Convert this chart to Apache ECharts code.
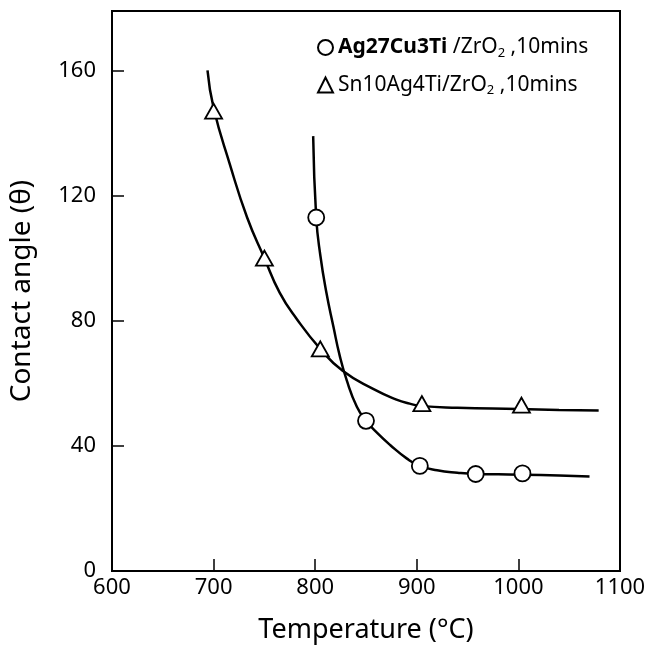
<!DOCTYPE html>
<html>
<head>
<meta charset="utf-8">
<script src="https://cdn.jsdelivr.net/npm/echarts@6/dist/echarts.min.js"></script>
<style>
html,body{margin:0;padding:0;background:#fff;}
#chart{width:649px;height:649px;}
</style>
</head>
<body>
<div id="chart"></div>
<script>
// measured points
var triTemp = [700, 750, 805, 905, 1003];
var triAngle = [147, 100, 71, 53.5, 53];
var cirTemp = [801, 850, 903, 958, 1004];
var cirAngle = [113, 48, 33.6, 31, 31.2];

// hand drawn fit curves
var triCurveTemp = [694, 700, 716, 733, 750, 765, 782, 805, 827, 857, 880, 893, 905, 940, 1000, 1040, 1079];
var triCurveAngle = [160, 148, 130, 113, 100, 89, 80.5, 71, 64, 58.2, 54.8, 53.5, 52.7, 52.2, 51.8, 51.5, 51.3];
var cirCurveTemp = [798, 801, 805, 811, 818, 824, 831, 841, 850, 862, 874, 890, 903, 920, 940, 958, 980, 1004, 1040, 1070];
var cirCurveAngle = [139, 113, 101, 89, 78, 69, 61, 52.5, 48, 43.8, 40.2, 36, 33.6, 32.2, 31.4, 31, 30.9, 30.8, 30.5, 30.2];

var xTicks = [600, 700, 800, 900, 1000, 1100];
var yTicks = [0, 40, 80, 120, 160];

var FONT = 'Noto Sans';

function pairs(xs, ys){
    var out = [];
    for(var i=0;i<xs.length;i++){
        out.push([xs[i], ys[i]]);
    }
    return out;
}

var chart = echarts.init(document.getElementById('chart'));
var option = {
    backgroundColor: '#fff',
    animation: false,
    textStyle: {fontFamily: FONT, color: '#000'},
    grid: {
        left: 112, right: 29, top: 11, bottom: 76,
        show: true, borderColor: '#000', borderWidth: 2,
        containLabel: false
    },
    legend: {
        orient: 'vertical',
        left: 312,
        top: 32,
        itemGap: 15,
        itemWidth: 15,
        itemHeight: 15,
        data: [
            {name: 'cir', icon: 'circle'},
            {name: 'tri', icon: 'triangle'}
        ],
        formatter: function(name){
            if(name=='cir'){
                return '{b|Ag27Cu3Ti} {a|/ZrO}{s|2}{a| ,10mins}';
            }
            return '{a|Sn10Ag4Ti/ZrO}{s|2}{a| ,10mins}';
        },
        textStyle: {
            fontFamily: FONT,
            color: '#000',
            fontSize: 21,
            rich: {
                a: {fontSize: 21, fontFamily: FONT, color: '#000'},
                b: {fontSize: 21, fontFamily: FONT, color: '#000', fontWeight: 'bold'},
                s: {fontSize: 13, fontFamily: FONT, color: '#000', padding: [11, 0, 0, 0]}
            }
        }
    },
    xAxis: {
        type: 'value',
        min: 600, max: 1100, interval: 100,
        name: 'Temperature (°C)',
        nameLocation: 'middle',
        nameGap: 46,
        nameTextStyle: {fontSize: 27, fontFamily: FONT, color: '#000'},
        axisLine: {show: true, lineStyle: {color: '#000', width: 2}},
        axisTick: {show: true, inside: true, length: 12, lineStyle: {color: '#000', width: 1.5}},
        axisLabel: {
            fontSize: 22, color: '#000', margin: 6, fontFamily: FONT,
            formatter: function(v){ return xTicks.indexOf(v)>=0 ? String(v) : ''; }
        },
        splitLine: {show: false}
    },
    yAxis: {
        type: 'value',
        min: 0, max: 179, interval: 40,
        name: 'Contact angle (θ)',
        nameLocation: 'middle',
        nameGap: 76,
        nameRotate: 90,
        nameTextStyle: {fontSize: 28, fontFamily: FONT, color: '#000'},
        axisLine: {show: true, lineStyle: {color: '#000', width: 2}},
        axisTick: {show: true, inside: true, length: 12, lineStyle: {color: '#000', width: 1.5}},
        axisLabel: {
            fontSize: 22, color: '#000', margin: 16, fontFamily: FONT,
            showMaxLabel: false,
            formatter: function(v){ return yTicks.indexOf(v)>=0 ? String(v) : ''; }
        },
        splitLine: {show: false}
    },
    series: [
        {
            name: 'triCurve', type: 'line',
            data: pairs(triCurveTemp, triCurveAngle),
            smooth: 0.5,
            showSymbol: false, silent: true,
            lineStyle: {color: '#000', width: 2.5},
            z: 2
        },
        {
            name: 'cirCurve', type: 'line',
            data: pairs(cirCurveTemp, cirCurveAngle),
            smooth: 0.5,
            showSymbol: false, silent: true,
            lineStyle: {color: '#000', width: 2.5},
            z: 2
        },
        {
            name: 'cir', type: 'scatter',
            data: pairs(cirTemp, cirAngle),
            symbol: 'circle', symbolSize: 16,
            itemStyle: {color: '#fff', borderColor: '#000', borderWidth: 1.8, opacity: 1},
            z: 5
        },
        {
            name: 'tri', type: 'scatter',
            data: pairs(triTemp, triAngle),
            symbol: 'triangle', symbolSize: [17, 15],
            itemStyle: {color: '#fff', borderColor: '#000', borderWidth: 1.8, opacity: 1},
            z: 5
        }
    ]
};
chart.setOption(option);
</script>
</body>
</html>
